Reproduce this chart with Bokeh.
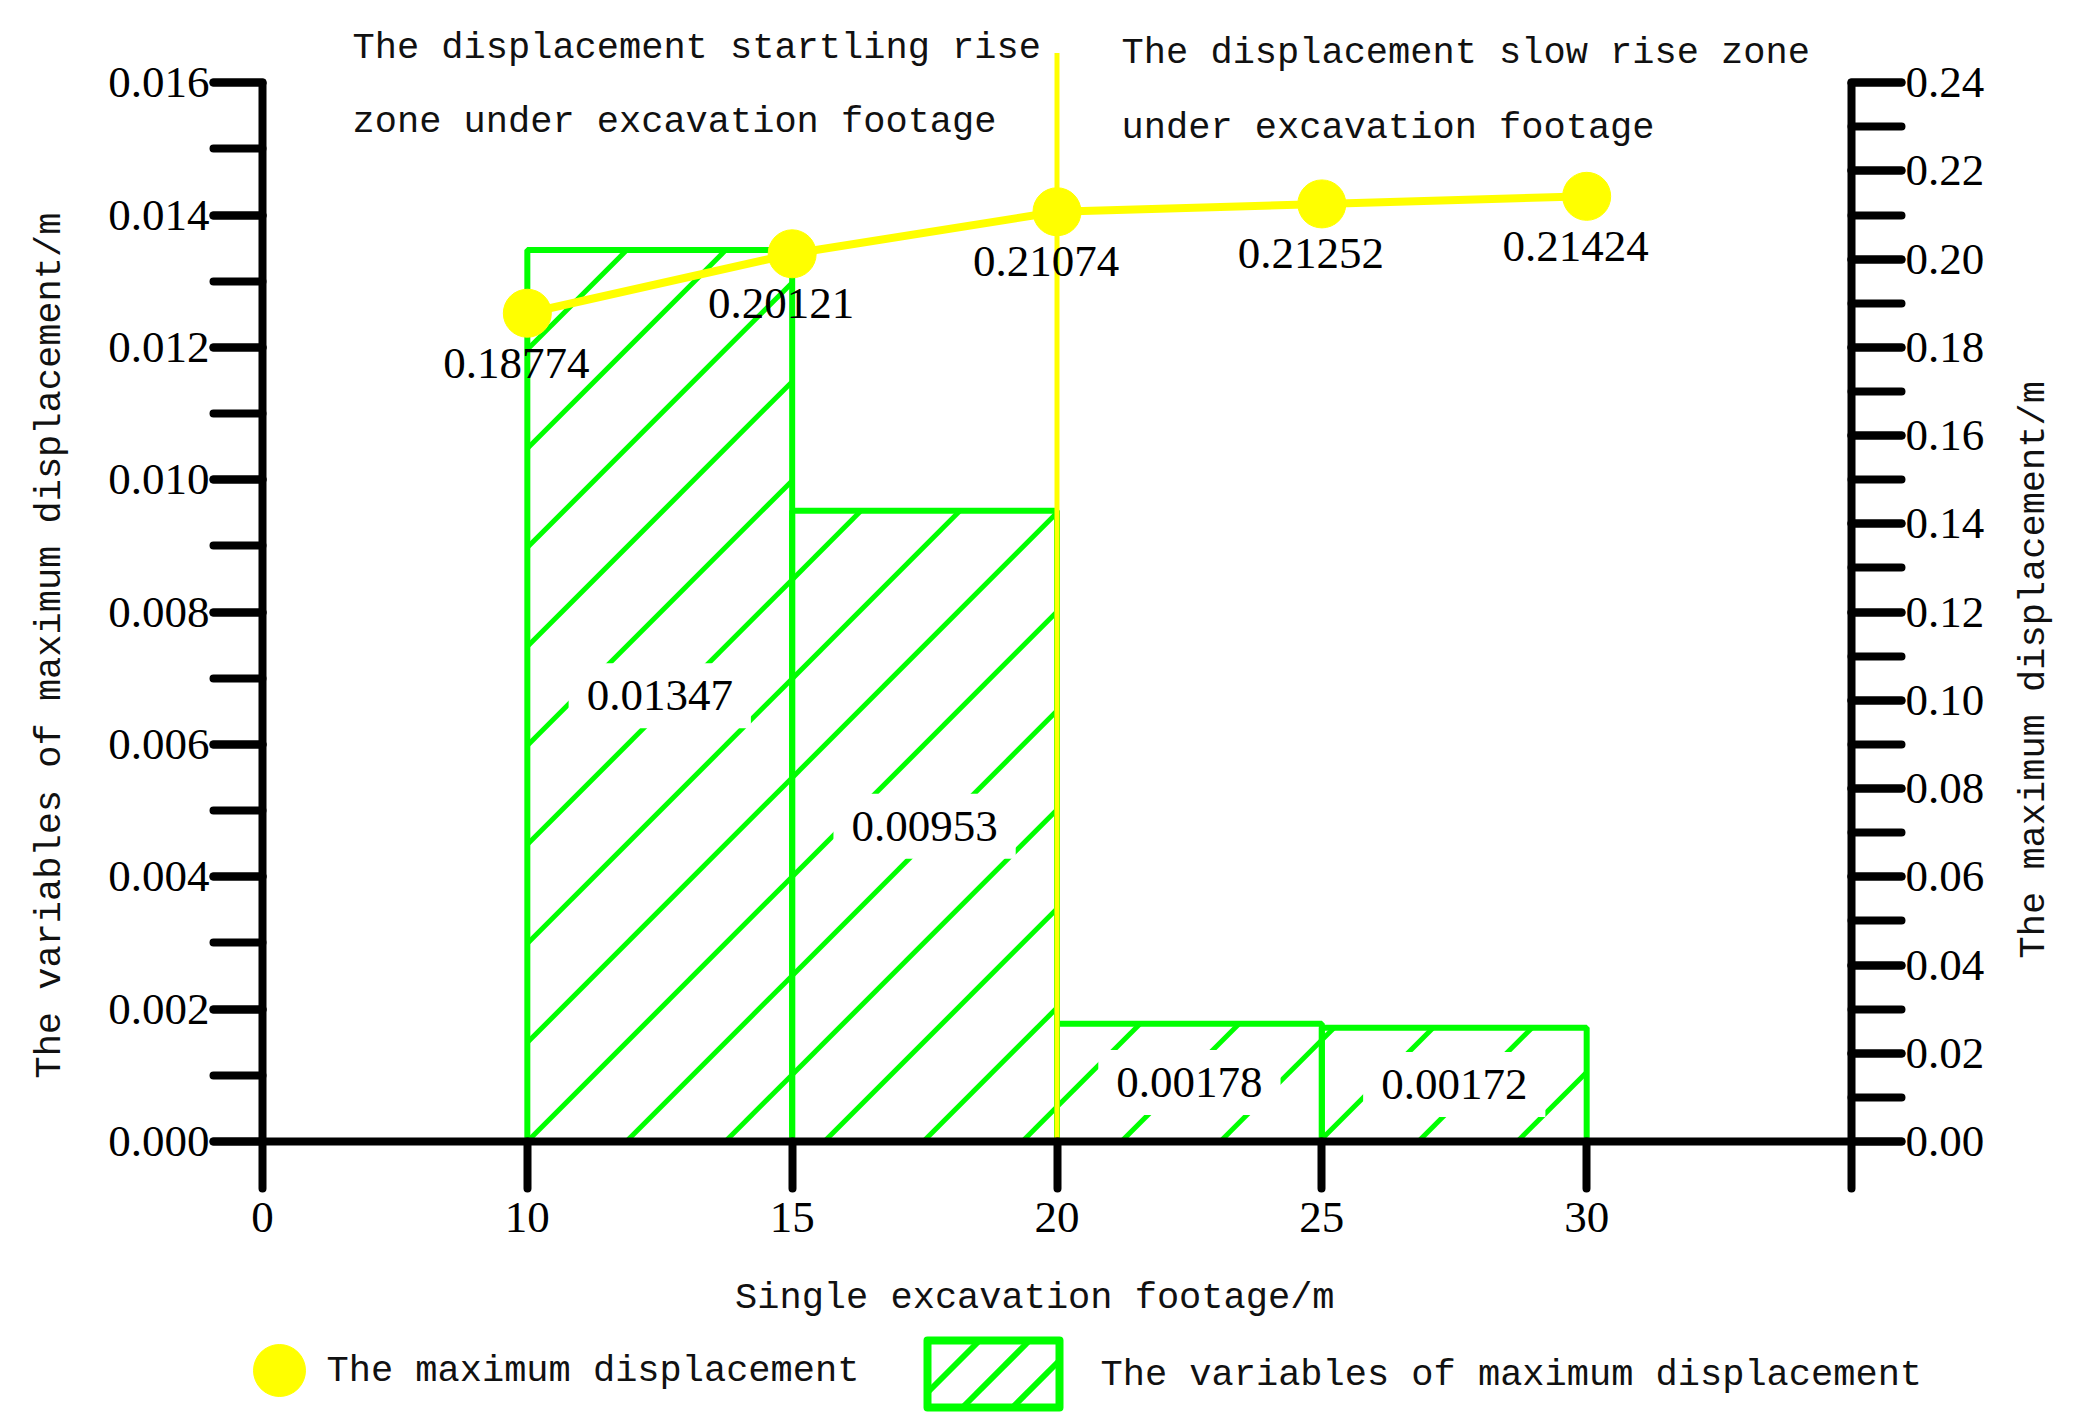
import math
from bokeh.plotting import figure
from bokeh.layouts import row, column
from bokeh.models import (Range1d, LinearAxis, FixedTicker, PrintfTickFormatter,
                          ColumnDataSource, Label)
from bokeh.core.properties import value
from bokeh.embed import file_html
from bokeh.resources import INLINE

# ---------------- data ----------------
X_TICK_LABELS = ["0", "10", "15", "20", "25", "30"]
FOOTAGE = [10, 15, 20, 25, 30]
MAX_DISP = [0.18774, 0.20121, 0.21074, 0.21252, 0.21424]
VARIATION = [0.01347, 0.00953, 0.00178, 0.00172]
ZONE_SPLIT = 20

Y_LEFT_TICKS = [round(0.002 * i, 3) for i in range(9)]
Y_LEFT_MINOR = [round(0.001 * i, 3) for i in range(17)]
Y_RIGHT_TICKS = [round(0.02 * i, 2) for i in range(13)]
Y_RIGHT_MINOR = [round(0.01 * i, 2) for i in range(25)]

X_TITLE = "Single excavation footage/m"
Y_LEFT_TITLE = "The variables of maximum displacement/m"
Y_RIGHT_TITLE = "The maximum displacement/m"
ZONE1_TEXT = ["The displacement startling rise", "zone under excavation footage"]
ZONE2_TEXT = ["The displacement slow rise zone", "under excavation footage"]
LEGEND_LABELS = ["The maximum displacement", "The variables of maximum displacement"]

# ---------------- style ----------------
GREEN = "#00FF00"
YELLOW = "#FFFF00"
NUM_FONT = "Liberation Serif"
TXT_FONT = "Liberation Mono"
NUM_SIZE = "45px"
TXT_SIZE = "37px"
TXT_COLOR = "#111111"
NBSP = "\u00a0"

FRAME_W, FRAME_H = 1589, 1125
BORDER_L, BORDER_R, BORDER_T, BORDER_B = 262, 160, 16, 185
MAIN_W = BORDER_L + FRAME_W + BORDER_R
MAIN_H = BORDER_T + FRAME_H + BORDER_B
SIDE_W = 56
LEG_H = 86
TOTAL_W = MAIN_W + SIDE_W

pos = {int(l): i for i, l in enumerate(X_TICK_LABELS)}
X_END = len(X_TICK_LABELS)          # position of the right axis
Y_END = 0.017
RIGHT_SCALE = Y_RIGHT_TICKS[-1] / Y_LEFT_TICKS[-1]
PX_X = FRAME_W / X_END
PX_Y = FRAME_H / Y_END

p = figure(frame_width=FRAME_W, frame_height=FRAME_H,
           x_range=Range1d(0, X_END), y_range=Range1d(0, Y_END),
           x_axis_type=None, y_axis_type=None,
           min_border_left=BORDER_L, min_border_right=BORDER_R,
           min_border_top=BORDER_T, min_border_bottom=BORDER_B,
           output_backend="svg", toolbar_location=None)
p.outline_line_color = None
p.background_fill_color = "white"
p.border_fill_color = "white"
p.extra_y_ranges = {"right": Range1d(0, Y_END * RIGHT_SCALE)}


def style_axis(ax, tick_len, label_standoff):
    ax.axis_line_width = 8
    ax.axis_line_color = "black"
    ax.major_tick_line_width = 8
    ax.major_tick_line_color = "black"
    ax.major_tick_line_cap = "round"
    ax.minor_tick_line_width = 8
    ax.minor_tick_line_color = "black"
    ax.minor_tick_line_cap = "round"
    ax.major_tick_out = tick_len
    ax.major_tick_in = 0
    ax.minor_tick_out = tick_len
    ax.minor_tick_in = 0
    ax.major_label_text_font = NUM_FONT
    ax.major_label_text_font_size = NUM_SIZE
    ax.major_label_text_color = "black"
    ax.major_label_standoff = label_standoff
    ax.axis_label_text_font = TXT_FONT
    ax.axis_label_text_font_size = TXT_SIZE
    ax.axis_label_text_font_style = "normal"
    ax.axis_label_text_color = TXT_COLOR


overrides = {i: l for i, l in enumerate(X_TICK_LABELS)}
overrides[X_END] = ""
xaxis = LinearAxis(ticker=FixedTicker(ticks=list(range(X_END + 1))),
                   major_label_overrides=overrides)
style_axis(xaxis, 47, 14)
xaxis.axis_label = X_TITLE + NBSP * 2
xaxis.axis_label_standoff = 42
p.add_layout(xaxis, "below")

yl = LinearAxis(ticker=FixedTicker(ticks=Y_LEFT_TICKS, minor_ticks=Y_LEFT_MINOR),
                formatter=PrintfTickFormatter(format="%.3f"),
                bounds=(0, Y_LEFT_TICKS[-1]))
style_axis(yl, 49, 4)
yl.axis_label = Y_LEFT_TITLE + NBSP * 6
yl.axis_label_standoff = 34
p.add_layout(yl, "left")

yr = LinearAxis(y_range_name="right",
                ticker=FixedTicker(ticks=Y_RIGHT_TICKS, minor_ticks=Y_RIGHT_MINOR),
                formatter=PrintfTickFormatter(format="%.2f"),
                bounds=(0, Y_RIGHT_TICKS[-1]))
style_axis(yr, 50, 4)
p.add_layout(yr, "right")

# ---------------- bars ----------------
bar_src = ColumnDataSource(dict(
    left=[pos[f] for f in FOOTAGE[:-1]],
    right=[pos[f] for f in FOOTAGE[1:]],
    top=VARIATION,
    mid_x=[(pos[a] + pos[b]) / 2 for a, b in zip(FOOTAGE[:-1], FOOTAGE[1:])],
    mid_y=[v / 2 for v in VARIATION],
    label=[f"{v:.5f}" for v in VARIATION],
))


def diag_hatch(rects, spacing, origin):
    """45-degree '/' hatch segments clipped to rectangles given in pixels (y up)."""
    out = ([], [], [], [])
    for X0, X1, Y0, Y1 in rects:
        k0 = math.floor((X0 - Y1 - origin) / spacing) - 1
        k1 = math.ceil((X1 - Y0 - origin) / spacing) + 1
        for k in range(k0, k1 + 1):
            c = origin + k * spacing          # line: y = x - c
            xs, xe = max(X0, Y0 + c), min(X1, Y1 + c)
            if xe - xs > 1:
                out[0].append(xs); out[1].append(xs - c)
                out[2].append(xe); out[3].append(xe - c)
    return out


rects = [(l * PX_X, r * PX_X, 0.0, t * PX_Y)
         for l, r, t in zip(bar_src.data["left"], bar_src.data["right"], VARIATION)]
hx0, hy0, hx1, hy1 = diag_hatch(rects, 99, pos[FOOTAGE[0]] * PX_X)
p.segment(x0=[v / PX_X for v in hx0], y0=[v / PX_Y for v in hy0],
          x1=[v / PX_X for v in hx1], y1=[v / PX_Y for v in hy1],
          line_color=GREEN, line_width=5)

p.quad(left="left", right="right", bottom=0, top="top", source=bar_src,
       fill_color=None, line_color=GREEN, line_width=6)

# zone divider
p.segment(x0=[pos[ZONE_SPLIT]], y0=[0], x1=[pos[ZONE_SPLIT]], y1=[0.01645],
          line_color=YELLOW, line_width=5)

p.text(x="mid_x", y="mid_y", text="label", source=bar_src,
       text_align="center", text_baseline="middle",
       text_font=value(NUM_FONT), text_font_size=NUM_SIZE, text_color="black",
       background_fill_color="white", padding=18)

# ---------------- line + points ----------------
pt_src = ColumnDataSource(dict(
    x=[pos[f] for f in FOOTAGE], y=MAX_DISP,
    label=[f"{v:.5f}" for v in MAX_DISP]))
p.line("x", "y", source=pt_src, y_range_name="right", line_color=YELLOW, line_width=8)
p.scatter("x", "y", source=pt_src, y_range_name="right", size=48,
          fill_color=YELLOW, line_color=YELLOW)
p.text(x="x", y="y", text="label", source=pt_src, y_range_name="right",
       x_offset=-11, y_offset=50, text_align="center", text_baseline="middle",
       text_font=value(NUM_FONT), text_font_size=NUM_SIZE, text_color="black")

# ---------------- zone texts ----------------
def add_label(x, y, text):
    p.add_layout(Label(x=x, y=y, text=text, text_align="left",
                       text_baseline="middle", text_font=TXT_FONT,
                       text_font_size=TXT_SIZE, text_color=TXT_COLOR))


add_label(0.34, 0.01652, ZONE1_TEXT[0])
add_label(0.34, 0.01540, ZONE1_TEXT[1])
add_label(3.244, 0.01645, ZONE2_TEXT[0])
add_label(3.244, 0.01531, ZONE2_TEXT[1])


def blank_fig(w, h, x_range, y_range):
    f = figure(width=w, height=h, x_range=x_range, y_range=y_range,
               x_axis_type=None, y_axis_type=None,
               min_border=0, min_border_left=0, min_border_right=0,
               min_border_top=0, min_border_bottom=0,
               output_backend="svg", toolbar_location=None)
    f.outline_line_color = None
    f.background_fill_color = "white"
    f.border_fill_color = "white"
    return f


# ---------------- right axis title (pixel space, y downwards) ----------------
p_r = blank_fig(SIDE_W, MAIN_H, Range1d(0, SIDE_W), Range1d(MAIN_H, 0))
p_r.text(x=[22], y=[770], text=[Y_RIGHT_TITLE], angle=math.pi / 2,
         text_align="center", text_baseline="middle",
         text_font=value(TXT_FONT), text_font_size=TXT_SIZE, text_color=TXT_COLOR)

# ---------------- legend strip (pixel space, y downwards) ----------------
p_l = blank_fig(TOTAL_W, LEG_H, Range1d(0, TOTAL_W), Range1d(LEG_H, 0))
p_l.scatter(x=[279], y=[44], size=52, fill_color=YELLOW, line_color=YELLOW)
p_l.text(x=[326], y=[44], text=[LEGEND_LABELS[0]], text_align="left",
         text_baseline="middle", text_font=value(TXT_FONT),
         text_font_size=TXT_SIZE, text_color=TXT_COLOR)
BOX = (927, 1059, 14, 81)   # left, right, top, bottom
# hatch in a y-up frame mirrored: y_up = LEG_H - y
lx0, ly0, lx1, ly1 = diag_hatch([(BOX[0], BOX[1], LEG_H - BOX[3], LEG_H - BOX[2])], 50, BOX[0] - 20)
p_l.segment(x0=lx0, y0=[LEG_H - v for v in ly0], x1=lx1, y1=[LEG_H - v for v in ly1],
            line_color=GREEN, line_width=6)
p_l.quad(left=[BOX[0]], right=[BOX[1]], top=[BOX[2]], bottom=[BOX[3]],
         fill_color=None, line_color=GREEN, line_width=8, line_join="round")
p_l.text(x=[1100], y=[48], text=[LEGEND_LABELS[1]], text_align="left",
         text_baseline="middle", text_font=value(TXT_FONT),
         text_font_size=TXT_SIZE, text_color=TXT_COLOR)

layout = column(row(p, p_r, spacing=0), p_l, spacing=0)
open("out.html", "w").write(file_html(layout, INLINE))
